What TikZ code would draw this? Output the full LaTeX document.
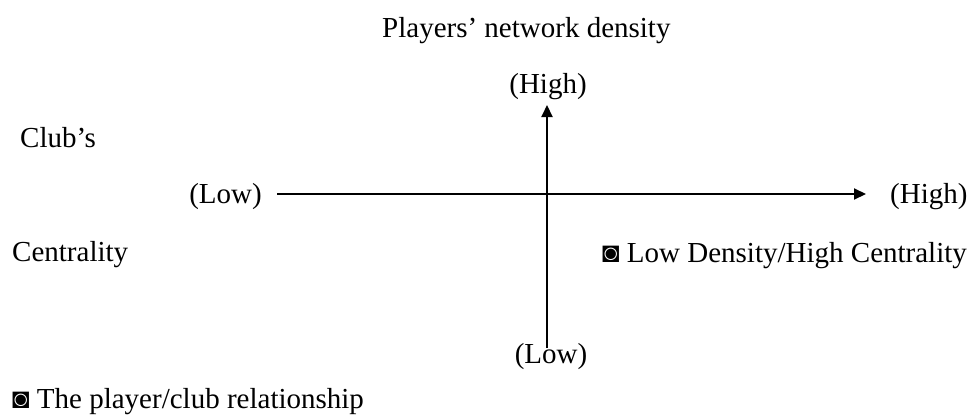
\documentclass[tikz,border=0pt]{standalone}
\usepackage{fontspec}
\setmainfont{Liberation Serif}
\usetikzlibrary{arrows.meta}
\tikzset{
  txt/.style={font=\fontsize{29}{34}\selectfont, inner sep=0pt},
  axis/.style={line width=2pt, -{Triangle[length=12pt,width=11pt]}}
}
\begin{document}
\begin{tikzpicture}[x=1pt,y=-1pt]
\useasboundingbox (0,0) rectangle (977,415);
\node[txt, anchor=base west] (title) at (382,37) {Players’ network density};
\node[txt, anchor=base] (hightop) at (548,93) {(High)};
\node[txt, anchor=base west] (club) at (20,147) {Club’s};
\node[txt, anchor=base east] (lowleft) at (262,203) {(Low)};
\node[txt, anchor=base west] (highright) at (890,203) {(High)};
\node[txt, anchor=base west] (cent) at (12,261) {Centrality};
\node[txt, anchor=base west] (ldhc) at (602,262) {◙ Low Density/High Centrality};
\node[txt, anchor=base] (lowbot) at (551,363) {(Low)};
\node[txt, anchor=base west] (rel) at (12,408) {◙ The player/club relationship};
\coordinate (hs) at (277,194);
\coordinate (he) at (866,194);
\coordinate (vs) at (547,348);
\coordinate (ve) at (547,105);
\draw[axis] (hs) -- (he);
\draw[axis] (vs) -- (ve);
\end{tikzpicture}
\end{document}
